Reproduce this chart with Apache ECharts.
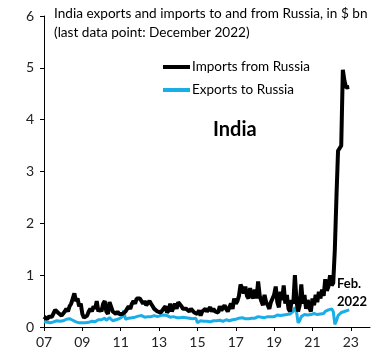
<!DOCTYPE html>
<html>
<head>
<meta charset="utf-8">
<script src="https://cdn.jsdelivr.net/npm/echarts@6/dist/echarts.min.js"></script>
<style>
  html, body { margin: 0; padding: 0; background: #fff; }
  #chart { width: 384px; height: 360px; }
</style>
</head>
<body>
<div id="chart"></div>
<script>
// monthly values, Jan 2007 .. Dec 2022, $ bn
const startYear = 2007;
const imports = [
  0.2, 0.18, 0.15, 0.2, 0.17, 0.2, 0.22, 0.33, 0.3, 0.27, 0.25, 0.22,
  0.25, 0.3, 0.35, 0.3, 0.4, 0.45, 0.55, 0.65, 0.5, 0.55, 0.4, 0.45,
  0.25, 0.18, 0.2, 0.22, 0.3, 0.35, 0.3, 0.4, 0.35, 0.5, 0.3, 0.35,
  0.3, 0.45, 0.5, 0.3, 0.25, 0.48, 0.5, 0.3, 0.28, 0.25, 0.3, 0.25,
  0.25, 0.25, 0.28, 0.3, 0.35, 0.4, 0.35, 0.45, 0.5, 0.45, 0.55, 0.58,
  0.55, 0.58, 0.45, 0.5, 0.42, 0.4, 0.5, 0.45, 0.4, 0.35, 0.38, 0.3,
  0.3, 0.28, 0.32, 0.3, 0.4, 0.28, 0.32, 0.45, 0.3, 0.3, 0.45, 0.35,
  0.48, 0.45, 0.4, 0.35, 0.38, 0.35, 0.38, 0.3, 0.35, 0.32, 0.28, 0.3,
  0.25, 0.32, 0.22, 0.3, 0.28, 0.35, 0.3, 0.32, 0.38, 0.3, 0.35, 0.3,
  0.33, 0.28, 0.4, 0.32, 0.3, 0.42, 0.35, 0.3, 0.38, 0.45, 0.35, 0.55,
  0.45, 0.5, 0.6, 0.82, 0.75, 0.65, 0.78, 0.6, 0.55, 0.75, 0.62, 0.55,
  0.72, 0.55, 0.88, 0.6, 0.5, 0.42, 0.62, 0.48, 0.42, 0.35, 0.48, 0.55,
  0.62, 0.78, 0.48, 0.38, 0.68, 0.52, 0.8, 0.45, 0.62, 0.35, 0.3, 0.52,
  0.45, 1.0, 0.5, 0.3, 0.42, 0.82, 0.45, 0.62, 0.35, 0.52, 0.38, 0.3,
  0.55, 0.42, 0.62, 0.48, 0.68, 0.55, 0.72, 0.6, 0.92, 0.7, 0.78, 1.0,
  0.8, 0.85, 1.5, 2.5, 3.4, 3.45, 3.5, 4.96, 4.75, 4.62, 4.65, 4.63
];
const exports = [
  0.1, 0.08, 0.09, 0.07, 0.08, 0.09, 0.1, 0.1, 0.12, 0.1, 0.11, 0.12,
  0.12, 0.13, 0.15, 0.17, 0.16, 0.14, 0.13, 0.12, 0.1, 0.1, 0.08, 0.09,
  0.08, 0.07, 0.08, 0.1, 0.09, 0.1, 0.11, 0.12, 0.1, 0.12, 0.14, 0.13,
  0.14, 0.15, 0.17, 0.13, 0.15, 0.18, 0.2, 0.12, 0.15, 0.14, 0.15, 0.16,
  0.15, 0.2, 0.32, 0.15, 0.18, 0.17, 0.2, 0.18, 0.2, 0.19, 0.2, 0.21,
  0.2, 0.22, 0.2, 0.19, 0.21, 0.2, 0.22, 0.2, 0.21, 0.22, 0.2, 0.2,
  0.2, 0.22, 0.25, 0.23, 0.2, 0.22, 0.2, 0.19, 0.18, 0.2, 0.19, 0.18,
  0.2, 0.18, 0.2, 0.19, 0.17, 0.18, 0.2, 0.17, 0.18, 0.16, 0.15, 0.17,
  0.08, 0.1, 0.12, 0.1, 0.11, 0.1, 0.11, 0.12, 0.1, 0.11, 0.12, 0.11,
  0.12, 0.11, 0.13, 0.12, 0.11, 0.12, 0.14, 0.13, 0.12, 0.13, 0.14, 0.15,
  0.15, 0.14, 0.17, 0.16, 0.18, 0.17, 0.16, 0.17, 0.16, 0.18, 0.17, 0.18,
  0.17, 0.18, 0.2, 0.18, 0.19, 0.2, 0.18, 0.19, 0.2, 0.19, 0.2, 0.22,
  0.2, 0.22, 0.23, 0.21, 0.22, 0.21, 0.23, 0.22, 0.24, 0.23, 0.25, 0.27,
  0.3, 0.38, 0.3, 0.08, 0.12, 0.2, 0.22, 0.24, 0.25, 0.23, 0.26, 0.24,
  0.25, 0.26, 0.28, 0.24, 0.22, 0.25, 0.27, 0.26, 0.3, 0.28, 0.33, 0.3,
  0.35, 0.3, 0.05, 0.12, 0.22, 0.25, 0.28, 0.27, 0.3, 0.29, 0.32, 0.33
];
const yearTicks = ['07', '09', '11', '13', '15', '17', '19', '21', '23'];

// x = years since Jan 2007
function toPairs(arr) {
  return arr.map((v, i) => [i / 12, v]);
}

const font = 'Lato, "Open Sans", sans-serif';
let myChart = echarts.init(document.getElementById('chart'));
let option = {
  animation: false,
  grid: { left: 44, right: 14, top: 16, bottom: 33 },
  legend: {
    orient: 'vertical',
    left: 158,
    top: 55,
    itemGap: 9,
    itemWidth: 27,
    itemHeight: 4,
    icon: 'rect',
    textStyle: { fontFamily: font, fontSize: 13.5, color: '#000', padding: [0, 0, 0, -3] },
    data: ['Imports from Russia', 'Exports to Russia'],
  },
  xAxis: {
    type: 'value',
    min: 0,
    max: 17,
    interval: 2,
    splitLine: { show: false },
    axisLine: { lineStyle: { color: '#000', width: 1 } },
    axisTick: { show: true, length: 4, lineStyle: { color: '#000' } },
    axisLabel: {
      fontFamily: font,
      fontSize: 14,
      color: '#222',
      margin: 8,
      showMaxLabel: false,
      formatter: v => (v % 2 === 0 ? yearTicks[v / 2] : ''),
    },
  },
  yAxis: {
    type: 'value',
    min: 0,
    max: 6,
    interval: 1,
    splitLine: { show: false },
    axisLine: { show: true, lineStyle: { color: '#000', width: 1 } },
    axisTick: { show: true, length: 4, lineStyle: { color: '#000' } },
    axisLabel: { fontFamily: font, fontSize: 14, color: '#222', margin: 10 },
  },
  graphic: [
    {
      type: 'text', left: 54, top: 7,
      style: { text: 'India exports and imports to and from Russia, in $ bn', font: '13.6px ' + font, fill: '#000' },
    },
    {
      type: 'text', left: 54, top: 26,
      style: { text: '(last data point: December 2022)', font: '13.6px ' + font, fill: '#000' },
    },
    {
      type: 'text', left: 213, top: 120,
      style: { text: 'India', font: 'bold 20px ' + font, fill: '#000' },
    },
    {
      type: 'text', left: 337, top: 275,
      style: { text: 'Feb.\n2022', font: 'bold 13px ' + font, fill: '#000', lineHeight: 18 },
    },
  ],
  series: [
    {
      name: 'Imports from Russia',
      type: 'line',
      showSymbol: false,
      data: toPairs(imports),
      itemStyle: { color: '#000' },
      lineStyle: { color: '#000', width: 4 },
      z: 3,
    },
    {
      name: 'Exports to Russia',
      type: 'line',
      showSymbol: false,
      data: toPairs(exports),
      itemStyle: { color: '#1AAEE8' },
      lineStyle: { color: '#1AAEE8', width: 3 },
      z: 2,
    },
  ],
};
myChart.setOption(option);
</script>
</body>
</html>
